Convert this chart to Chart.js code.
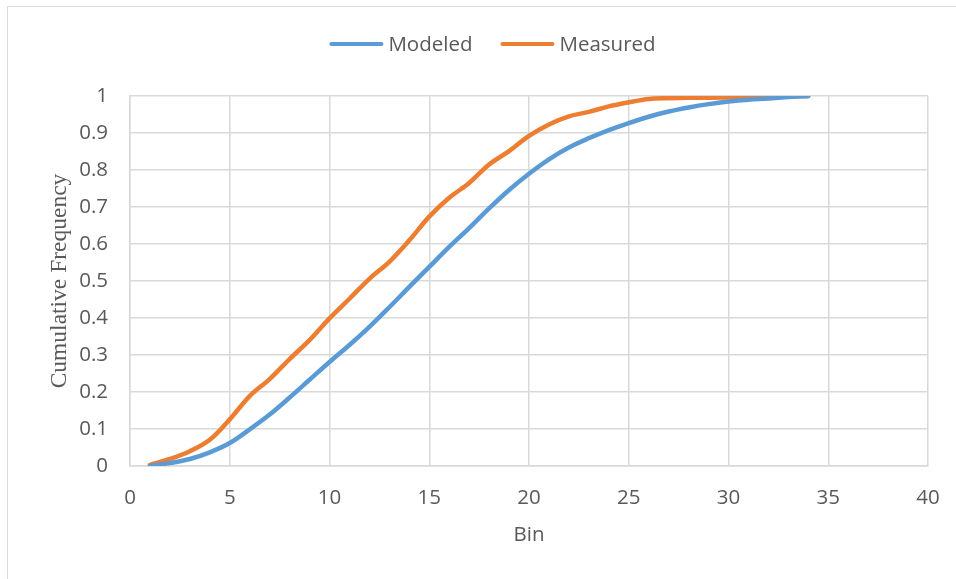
<!DOCTYPE html>
<html>
<head>
<meta charset="utf-8">
<title>Cumulative Frequency by Bin</title>
<script src="https://cdn.jsdelivr.net/npm/chart.js@4/dist/chart.umd.min.js"></script>
<style>
  html, body { margin: 0; padding: 0; background: #fff; overflow: hidden; }
  #wrap { position: relative; width: 956px; height: 579px; }
  #frame { position: absolute; left: 7px; top: 6px; width: 1000px; height: 700px; border: 1px solid #d9d9d9; }
  #c { position: absolute; left: 0; top: 0; }
</style>
</head>
<body>
<div id="wrap">
  <div id="frame"></div>
  <canvas id="c" width="956" height="579"></canvas>
</div>
<script>
// Bin numbers and cumulative frequencies for each series
const bins = [1, 2, 3, 4, 5, 6, 7, 8, 9, 10, 11, 12, 13, 14, 15, 16, 17,
              18, 19, 20, 21, 22, 23, 24, 25, 26, 27, 28, 29, 30, 31, 32, 33, 34];
const modeled = [0, 0.008, 0.019, 0.037, 0.062, 0.099, 0.139, 0.185, 0.233, 0.281,
                 0.327, 0.376, 0.429, 0.484, 0.538, 0.592, 0.643, 0.696, 0.746, 0.79,
                 0.829, 0.861, 0.886, 0.908, 0.927, 0.944, 0.958, 0.969, 0.978, 0.985,
                 0.99, 0.993, 0.997, 1.0];
const measured = [0.003, 0.019, 0.04, 0.071, 0.126, 0.189, 0.235, 0.289, 0.34, 0.399,
                  0.452, 0.506, 0.552, 0.61, 0.674, 0.725, 0.765, 0.815, 0.851, 0.892,
                  0.923, 0.945, 0.957, 0.972, 0.983, 0.992, 0.994, 0.995, 0.995, 0.996,
                  0.997, 0.998, 0.999, 1.0];

// Axis ranges and tick steps
const xRange = { min: 0, max: 40, step: 5 };
const yRange = { min: 0, max: 1, step: 0.1 };

const seriesNames = ['Modeled', 'Measured'];
const seriesColors = ['#5b9bd5', '#ed7d31'];

const textColor = '#595959';
const gridColor = '#d9d9d9';
const sansFont = "'Open Sans', 'Liberation Sans', sans-serif";

// Plot-area edges on the canvas
const plotBox = { left: 130, right: 928, top: 96, bottom: 466 };

const toPoints = (ys) => bins.map((b, i) => ({ x: b, y: ys[i] }));

// Legend drawn as a centred row of line swatches followed by labels
const lineLegend = {
  id: 'lineLegend',
  afterDraw(chart, args, opts) {
    const ctx = chart.ctx;
    ctx.save();
    ctx.font = opts.fontSize + 'px ' + sansFont;
    const items = chart.data.datasets.map(ds => ({
      label: ds.label,
      color: ds.borderColor,
      w: ctx.measureText(ds.label).width
    }));
    const total = items.reduce((s, it) => s + opts.swatch + opts.gap + it.w, 0) +
                  opts.spacing * (items.length - 1);
    let x = opts.centerX - total / 2;
    const y = opts.y;
    items.forEach(it => {
      ctx.strokeStyle = it.color;
      ctx.lineWidth = 4;
      ctx.lineCap = 'round';
      ctx.beginPath();
      ctx.moveTo(x + 2, y);
      ctx.lineTo(x + opts.swatch - 2, y);
      ctx.stroke();
      ctx.fillStyle = textColor;
      ctx.textAlign = 'left';
      ctx.textBaseline = 'middle';
      ctx.fillText(it.label, x + opts.swatch + opts.gap, y + 1);
      x += opts.swatch + opts.gap + it.w + opts.spacing;
    });
    ctx.restore();
  }
};

const lineStyle = (color) => ({
  borderColor: color,
  backgroundColor: color,
  borderWidth: 4.5,
  borderCapStyle: 'round',
  borderJoinStyle: 'round',
  pointRadius: 0,
  pointHoverRadius: 0,
  tension: 0.35,
  fill: false
});

new Chart(document.getElementById('c'), {
  type: 'line',
  data: {
    datasets: [
      Object.assign({ label: seriesNames[0], data: toPoints(modeled) }, lineStyle(seriesColors[0])),
      Object.assign({ label: seriesNames[1], data: toPoints(measured) }, lineStyle(seriesColors[1]))
    ]
  },
  options: {
    responsive: false,
    animation: false,
    events: [],
    layout: { padding: { top: plotBox.top, right: 956 - plotBox.right, bottom: 0, left: 0 } },
    plugins: {
      legend: { display: false },
      tooltip: { enabled: false },
      lineLegend: { centerX: 492.5, y: 44, fontSize: 20.5, swatch: 54, gap: 5, spacing: 28 }
    },
    scales: {
      x: {
        type: 'linear',
        min: xRange.min,
        max: xRange.max,
        afterFit: (s) => { s.height = 579 - plotBox.bottom; s.paddingRight = 0; },
        ticks: {
          stepSize: xRange.step,
          padding: 20,
          color: textColor,
          font: { family: sansFont, size: 20.5 }
        },
        grid: { color: gridColor, lineWidth: 1.5, drawTicks: false },
        border: { color: gridColor, width: 1.5 },
        title: {
          display: true,
          text: 'Bin',
          color: textColor,
          font: { family: sansFont, size: 20.5 },
          padding: { top: 0, bottom: 32 }
        }
      },
      y: {
        min: yRange.min,
        max: yRange.max,
        afterFit: (s) => { s.width = plotBox.left; },
        ticks: {
          stepSize: yRange.step,
          padding: 22,
          color: textColor,
          font: { family: sansFont, size: 20.5 },
          callback: (v) => Number(v.toFixed(1)).toString()
        },
        grid: { color: gridColor, lineWidth: 1.5, drawTicks: false },
        border: { color: gridColor, width: 1.5 },
        title: {
          display: true,
          text: 'Cumulative Frequency',
          color: textColor,
          font: { family: "'Liberation Serif', 'DejaVu Serif', serif", size: 23.5 },
          padding: { top: 46, bottom: 0 }
        }
      }
    }
  },
  plugins: [lineLegend]
});
</script>
</body>
</html>
